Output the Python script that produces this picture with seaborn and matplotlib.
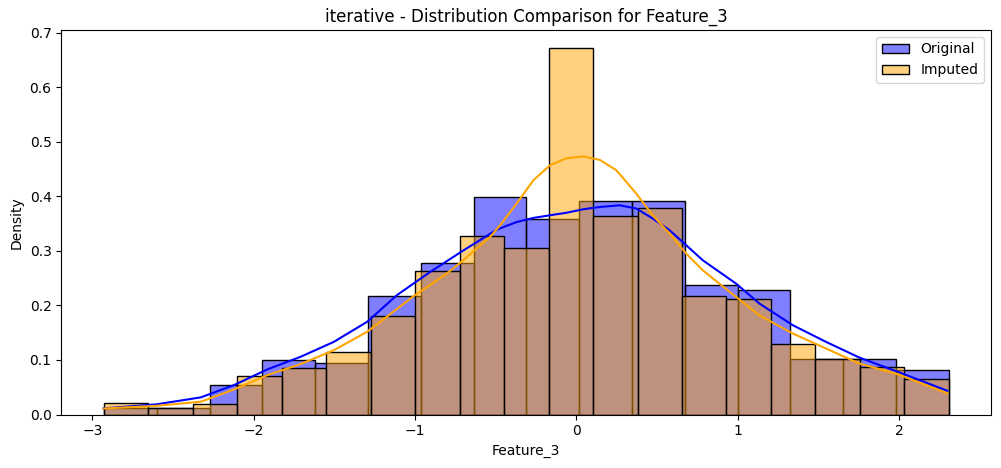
import numpy as np
import pandas as pd
import seaborn as sns
import matplotlib
matplotlib.use("Agg")
import matplotlib.pyplot as plt

# bin edges
orig_edges = list(np.linspace(-2.927, 2.309, 17))
imp_edges = list(np.linspace(-2.927, 2.309, 20))

# density per bin
orig_density = [0.0125, 0.0125, 0.054, 0.100, 0.094, 0.2165, 0.277, 0.398,
                0.3575, 0.3916, 0.3916, 0.2366, 0.229, 0.101, 0.101, 0.081]
imp_density = [0.0205, 0.0125, 0.019, 0.071, 0.086, 0.115, 0.181, 0.263, 0.328,
               0.3055, 0.671, 0.3635, 0.379, 0.2176, 0.211, 0.130, 0.101, 0.0864, 0.0645]

# kde curves
orig_kde_x = [-2.93, -2.60, -2.326, -2.121, -1.914, -1.708, -1.502, -1.296, -1.111,
              -0.905, -0.699, -0.493, -0.369, -0.266, -0.163, -0.060, 0.043, 0.146,
              0.2695, 0.3727, 0.475, 0.5785, 0.682, 0.784, 0.8875, 0.991, 1.135,
              1.341, 1.547, 1.753, 1.996, 2.30]
orig_kde_y = [0.0113, 0.0187, 0.0315, 0.054, 0.0828, 0.1059, 0.1333, 0.170, 0.219,
              0.2615, 0.301, 0.339, 0.353, 0.3605, 0.3654, 0.370, 0.3764, 0.3806,
              0.3837, 0.3777, 0.3593, 0.338, 0.3104, 0.283, 0.2615, 0.240, 0.2036,
              0.164, 0.1334, 0.1047, 0.078, 0.0436]
imp_kde_x = [-2.93, -2.60, -2.326, -2.121, -1.914, -1.708, -1.502, -1.296, -1.008,
             -0.802, -0.724, -0.534, -0.472, -0.369, -0.266, -0.163, -0.060, 0.043,
             0.146, 0.249, 0.3727, 0.475, 0.5785, 0.682, 0.784, 0.8875, 0.991, 1.135,
             1.341, 1.547, 1.753, 1.996, 2.30]
imp_kde_y = [0.011, 0.016, 0.0235, 0.046, 0.0723, 0.0925, 0.118, 0.1517, 0.217,
             0.2586, 0.277, 0.3257, 0.347, 0.387, 0.4295, 0.457, 0.470, 0.4734,
             0.467, 0.448, 0.405, 0.365, 0.332, 0.295, 0.2647, 0.240, 0.2157, 0.182,
             0.1487, 0.1212, 0.0937, 0.0736, 0.0388]

orig_df = pd.DataFrame({
    "x": [(a + b) / 2 for a, b in zip(orig_edges[:-1], orig_edges[1:])],
    "w": orig_density,
})
imp_df = pd.DataFrame({
    "x": [(a + b) / 2 for a, b in zip(imp_edges[:-1], imp_edges[1:])],
    "w": imp_density,
})

fig, ax = plt.subplots(figsize=(10.01, 4.68), dpi=100)
fig.subplots_adjust(left=0.0612, right=0.990, top=0.9359, bottom=0.1143)

sns.histplot(data=orig_df, x="x", weights="w", bins=orig_edges, stat="density",
             color="blue", alpha=0.5, label="Original", ax=ax)
sns.histplot(data=imp_df, x="x", weights="w", bins=imp_edges, stat="density",
             color="orange", alpha=0.5, label="Imputed", ax=ax)

sns.lineplot(x=orig_kde_x, y=orig_kde_y, color="blue", lw=1.5, ax=ax)
sns.lineplot(x=imp_kde_x, y=imp_kde_y, color="orange", lw=1.5, ax=ax)

ax.set_title("iterative - Distribution Comparison for Feature_3")
ax.set_xlabel("Feature_3")
ax.set_ylabel("Density")
ax.legend()

plt.savefig("out.png", dpi=100)
